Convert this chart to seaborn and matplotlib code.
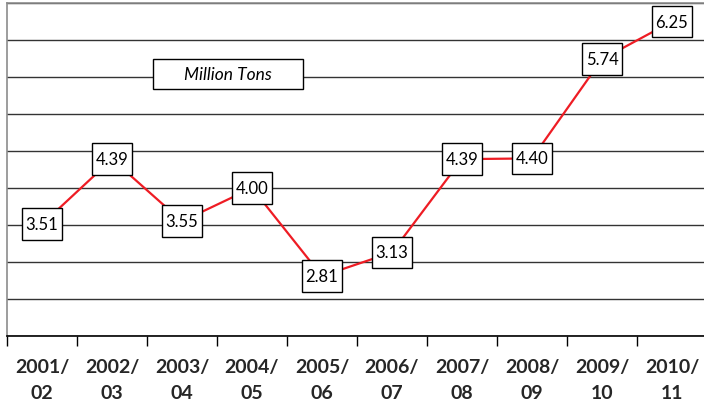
import numpy as np
import pandas as pd
import seaborn as sns
import matplotlib
matplotlib.use("Agg")
import matplotlib.pyplot as plt
from matplotlib.patches import Rectangle
from matplotlib.path import Path

seasons = ["2001/\n02", "2002/\n03", "2003/\n04", "2004/\n05", "2005/\n06",
           "2006/\n07", "2007/\n08", "2008/\n09", "2009/\n10", "2010/\n11"]
production = [3.51, 4.39, 3.55, 4.00, 2.81, 3.13, 4.39, 4.40, 5.74, 6.25]
unit_label = "Million Tons"

sns.set_theme(style="white")
plt.rcParams["font.family"] = ["Lato", "DejaVu Sans"]


def label_box(x0, y0, width, height, mutation_size):
    """Square box with separate horizontal and vertical padding."""
    px = 0.2 * mutation_size
    py = 0.47 * mutation_size
    x1, y1 = x0 - px, y0 - py
    x2, y2 = x0 + width + px, y0 + height + py
    verts = [(x1, y1), (x2, y1), (x2, y2), (x1, y2), (x1, y1)]
    codes = [Path.MOVETO, Path.LINETO, Path.LINETO, Path.LINETO, Path.CLOSEPOLY]
    return Path(verts, codes)


W, H = 704, 402
fig = plt.figure(figsize=(W / 100, H / 100), dpi=100)
# plot area in pixels: left 7, right 707, top 4, bottom 337
ax = fig.add_axes([7 / W, (H - 337) / H, 700 / W, 333 / H])

df = pd.DataFrame({"idx": np.arange(len(production)), "value": production})
sns.lineplot(data=df, x="idx", y="value", ax=ax, color="#ee1c24",
             linewidth=1.6, zorder=3)

ax.set_xlim(-0.5, len(production) - 0.5)
ax.set_ylim(2.0, 6.5)
ax.set_yticks(np.arange(2.0, 6.51, 0.5))
ax.set_yticklabels([])
ax.tick_params(axis="y", length=0)
ax.yaxis.grid(True, color="#333333", linewidth=1.0)
ax.set_axisbelow(True)
ax.set_xlabel("")
ax.set_ylabel("")

# category labels centered, tick marks on category boundaries
ax.set_xticks(np.arange(len(seasons)))
ax.set_xticklabels(seasons, fontsize=14, fontweight="bold", linespacing=1.6)
ax.tick_params(axis="x", which="major", length=0, pad=16)
ax.set_xticks(np.arange(-0.5, len(seasons), 1.0), minor=True)
ax.tick_params(axis="x", which="minor", length=7, width=1.0, color="black",
               bottom=True)

for side in ("top", "left"):
    ax.spines[side].set_color("#8c8c8c")
    ax.spines[side].set_linewidth(1.2)
ax.spines["right"].set_visible(False)
ax.spines["bottom"].set_color("black")
ax.spines["bottom"].set_linewidth(1.2)

for i, v in enumerate(production):
    ax.text(i, v, f"{v:.2f}", ha="center", va="center", fontsize=12,
            color="black", zorder=5,
            bbox=dict(boxstyle=label_box, facecolor="white",
                      edgecolor="black", linewidth=1.0))

ax.add_patch(Rectangle((0.2086, 0.742), 0.2143, 0.09, transform=ax.transAxes,
                       facecolor="white", edgecolor="black", linewidth=1.0,
                       zorder=4))
ax.text(0.3157, 0.787, unit_label, transform=ax.transAxes, ha="center",
        va="center", fontsize=12.5, fontstyle="italic", color="black", zorder=5)

fig.savefig("out.png", dpi=100)
